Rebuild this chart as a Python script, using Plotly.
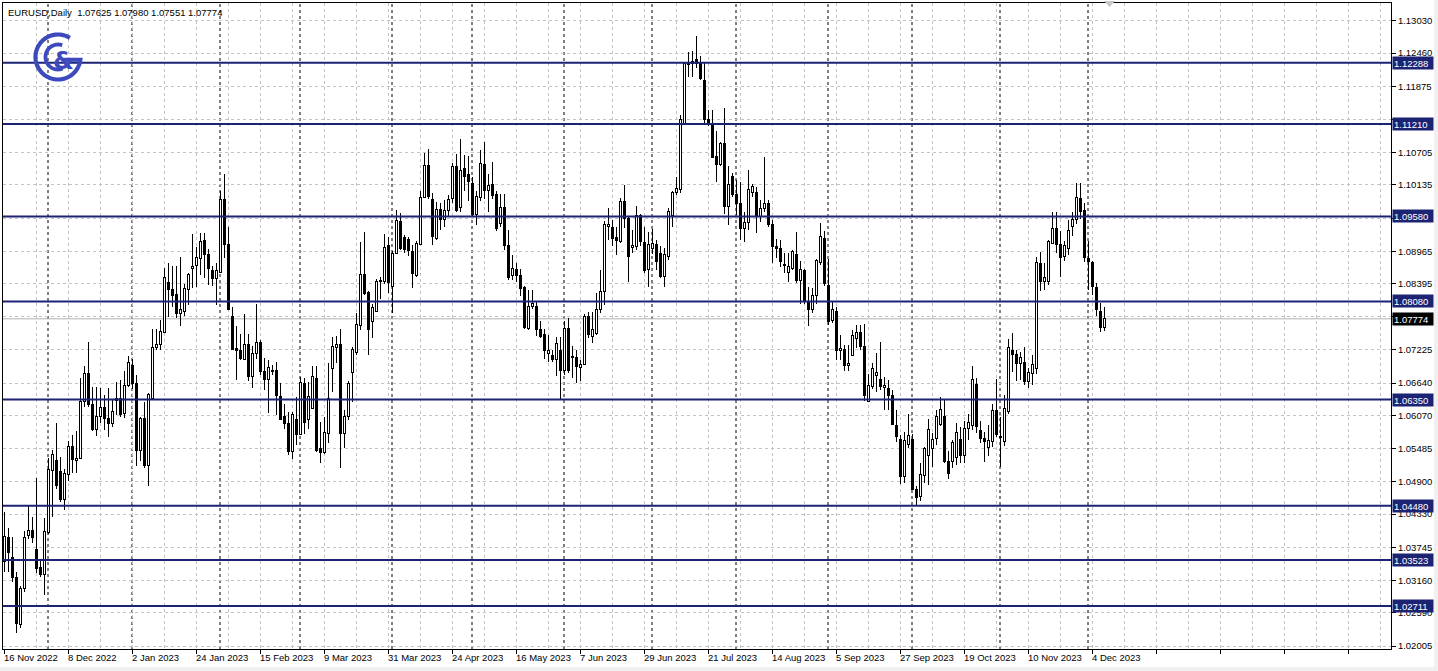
import math
import pandas as pd
import plotly.graph_objects as go

# ---------------- data ----------------
symbol_header = "EURUSD,Daily"
header_ohlc = ["1.07625", "1.07980", "1.07551", "1.07774"]

opens = [
    1.0349, 1.0392, 1.0357, 1.0322, 1.0238, 1.0302, 1.0395, 1.0405, 1.0370, 1.0339,
    1.0327, 1.0401, 1.0510, 1.0527, 1.0508, 1.0459, 1.0503, 1.0553, 1.0527, 1.0532,
    1.0631, 1.0681, 1.0626, 1.0583, 1.0606, 1.0621, 1.0602, 1.0593, 1.0634, 1.0637,
    1.0611, 1.0660, 1.0695, 1.0664, 1.0545, 1.0602, 1.0519, 1.0637, 1.0727, 1.0732,
    1.0753, 1.0841, 1.0829, 1.0821, 1.0786, 1.0790, 1.0829, 1.0866, 1.0871, 1.0884,
    1.0916, 1.0890, 1.0862, 1.0849, 1.0859, 1.0988, 1.0909, 1.0781, 1.0725, 1.0722,
    1.0706, 1.0733, 1.0675, 1.0717, 1.0735, 1.0685, 1.0670, 1.0684, 1.0686, 1.0641,
    1.0605, 1.0593, 1.0543, 1.0600, 1.0573, 1.0664, 1.0600, 1.0620, 1.0673, 1.0549,
    1.0542, 1.0576, 1.0690, 1.0727, 1.0732, 1.0576, 1.0606, 1.0683, 1.0718, 1.0765,
    1.0856, 1.0824, 1.0773, 1.0791, 1.0843, 1.0843, 1.0906, 1.0835, 1.0893, 1.0949,
    1.0921, 1.0917, 1.0896, 1.0853, 1.0908, 1.0992, 1.1047, 1.0987, 1.0919, 1.0970,
    1.0953, 1.0969, 1.0990, 1.1046, 1.0974, 1.1043, 1.1031, 1.1016, 1.0962, 1.0992,
    1.1050, 1.1004, 1.1015, 1.0996, 1.0946, 1.0973, 1.0907, 1.0854, 1.0865, 1.0853,
    1.0832, 1.0761, 1.0799, 1.0800, 1.0759, 1.0749, 1.0717, 1.0713, 1.0705, 1.0722,
    1.0687, 1.0761, 1.0709, 1.0710, 1.0692, 1.0697, 1.0781, 1.0747, 1.0752, 1.0793,
    1.0825, 1.0940, 1.0939, 1.0921, 1.0914, 1.0984, 1.0955, 1.0903, 1.0905, 1.0960,
    1.0912, 1.0864, 1.0902, 1.0909, 1.0893, 1.0852, 1.0887, 1.0960, 1.1000, 1.1006,
    1.1122, 1.1225, 1.1228, 1.1234, 1.1228, 1.1197, 1.1129, 1.1121, 1.1063, 1.1049,
    1.1086, 1.0975, 1.1028, 1.0996, 1.0981, 1.0937, 1.0947, 1.1001, 1.1001, 1.0957,
    1.0972, 1.0981, 1.0943, 1.0905, 1.0902, 1.0874, 1.0859, 1.0866, 1.0890, 1.0845,
    1.0862, 1.0808, 1.0793, 1.0819, 1.0876, 1.0919, 1.0837, 1.0774, 1.0790, 1.0721,
    1.0724, 1.0695, 1.0712, 1.0742, 1.0754, 1.0728, 1.0632, 1.0658, 1.0678, 1.0671,
    1.0656, 1.0654, 1.0643, 1.0590, 1.0565, 1.0500, 1.0555, 1.0564, 1.0476, 1.0464,
    1.0502, 1.0537, 1.0548, 1.0567, 1.0591, 1.0605, 1.0526, 1.0526, 1.0533, 1.0565,
    1.0536, 1.0584, 1.0589, 1.0661, 1.0581, 1.0567, 1.0550, 1.0561, 1.0615, 1.0570,
    1.0561, 1.0614, 1.0721, 1.0714, 1.0698, 1.0701, 1.0667, 1.0681, 1.0690, 1.0875,
    1.0844, 1.0844, 1.0911, 1.0937, 1.0908, 1.0887, 1.0902, 1.0940, 1.0952, 1.0990,
    1.0969, 1.0883, 1.0877, 1.0833, 1.0790, 1.07625,
]

highs = [
    1.0436, 1.0408, 1.0392, 1.0331, 1.0306, 1.0403, 1.0449, 1.0428, 1.0496, 1.0351,
    1.0427, 1.0532, 1.0546, 1.0593, 1.0533, 1.0512, 1.0562, 1.0573, 1.0580, 1.0673,
    1.0694, 1.0737, 1.0658, 1.0658, 1.0655, 1.0643, 1.0656, 1.0634, 1.0666, 1.0669,
    1.0686, 1.0712, 1.0706, 1.0679, 1.0605, 1.0631, 1.0646, 1.0760, 1.0760, 1.0776,
    1.0867, 1.0875, 1.0871, 1.0871, 1.0887, 1.0839, 1.0859, 1.0927, 1.0904, 1.0929,
    1.0928, 1.0900, 1.0870, 1.0875, 1.1002, 1.1033, 1.0940, 1.0799, 1.0765, 1.0751,
    1.0786, 1.0751, 1.0730, 1.0803, 1.0740, 1.0708, 1.0705, 1.0696, 1.0702, 1.0664,
    1.0627, 1.0614, 1.0614, 1.0640, 1.0675, 1.0673, 1.0666, 1.0694, 1.0694, 1.0596,
    1.0605, 1.0699, 1.0746, 1.0748, 1.0759, 1.0617, 1.0667, 1.0728, 1.0788, 1.0913,
    1.0931, 1.0826, 1.0803, 1.0847, 1.0852, 1.0927, 1.0922, 1.0897, 1.0970, 1.0964,
    1.0925, 1.0922, 1.0908, 1.0914, 1.1002, 1.1069, 1.1076, 1.0999, 1.0984, 1.0982,
    1.0987, 1.0996, 1.1052, 1.1068, 1.1094, 1.1066, 1.1064, 1.1028, 1.1002, 1.1075,
    1.1090, 1.1033, 1.1054, 1.1003, 1.0998, 1.0998, 1.0934, 1.0890, 1.0875, 1.0865,
    1.0835, 1.0829, 1.0828, 1.0808, 1.0774, 1.0759, 1.0749, 1.0722, 1.0746, 1.0745,
    1.0773, 1.0779, 1.0729, 1.0723, 1.0705, 1.0786, 1.0790, 1.0790, 1.0823, 1.0864,
    1.0949, 1.0972, 1.0952, 1.0940, 1.0990, 1.1013, 1.0958, 1.0934, 1.0976, 1.0963,
    1.0940, 1.0931, 1.0935, 1.0917, 1.0905, 1.0902, 1.0972, 1.1002, 1.1028, 1.1137,
    1.1231, 1.1247, 1.1250, 1.1276, 1.1240, 1.1229, 1.1146, 1.1146, 1.1108, 1.1090,
    1.1149, 1.1046, 1.1034, 1.1022, 1.1019, 1.0966, 1.1040, 1.1015, 1.1009, 1.0987,
    1.1063, 1.0987, 1.0952, 1.0918, 1.0917, 1.0893, 1.0893, 1.0898, 1.0931, 1.0880,
    1.0865, 1.0834, 1.0832, 1.0882, 1.0946, 1.0932, 1.0882, 1.0808, 1.0799, 1.0749,
    1.0731, 1.0731, 1.0758, 1.0767, 1.0767, 1.0768, 1.0681, 1.0699, 1.0718, 1.0737,
    1.0675, 1.0669, 1.0652, 1.0617, 1.0572, 1.0578, 1.0609, 1.0575, 1.0483, 1.0523,
    1.0552, 1.0601, 1.0576, 1.0616, 1.0640, 1.0636, 1.0545, 1.0563, 1.0594, 1.0587,
    1.0598, 1.0609, 1.0695, 1.0673, 1.0597, 1.0578, 1.0591, 1.0627, 1.0672, 1.0605,
    1.0643, 1.0742, 1.0752, 1.0722, 1.0719, 1.0727, 1.0691, 1.0713, 1.0887, 1.0895,
    1.0875, 1.0917, 1.0965, 1.0965, 1.0933, 1.0915, 1.0951, 1.0965, 1.1017, 1.1017,
    1.0982, 1.0915, 1.0879, 1.0840, 1.0805, 1.07980,
]

lows = [
    1.0331, 1.0331, 1.0313, 1.0223, 1.0233, 1.0295, 1.0390, 1.0383, 1.0329, 1.0322,
    1.0291, 1.0398, 1.0428, 1.0478, 1.0455, 1.0440, 1.0492, 1.0506, 1.0505, 1.0531,
    1.0622, 1.0622, 1.0579, 1.0571, 1.0593, 1.0581, 1.0569, 1.0587, 1.0608, 1.0605,
    1.0603, 1.0658, 1.0653, 1.0518, 1.0526, 1.0514, 1.0483, 1.0634, 1.0722, 1.0722,
    1.0752, 1.0781, 1.0799, 1.0778, 1.0764, 1.0782, 1.0802, 1.0831, 1.0834, 1.0855,
    1.0849, 1.0837, 1.0835, 1.0802, 1.0858, 1.0884, 1.0793, 1.0723, 1.0669, 1.0705,
    1.0705, 1.0667, 1.0655, 1.0706, 1.0678, 1.0652, 1.0612, 1.0678, 1.0608, 1.0599,
    1.0584, 1.0537, 1.0531, 1.0555, 1.0573, 1.0575, 1.0584, 1.0618, 1.0543, 1.0524,
    1.0539, 1.0558, 1.0649, 1.0700, 1.0514, 1.0549, 1.0599, 1.0631, 1.0714, 1.0758,
    1.0820, 1.0713, 1.0744, 1.0790, 1.0812, 1.0839, 1.0823, 1.0788, 1.0892, 1.0899,
    1.0893, 1.0889, 1.0832, 1.0851, 1.0908, 1.0990, 1.0988, 1.0908, 1.0917, 1.0934,
    1.0940, 1.0958, 1.0982, 1.0966, 1.0966, 1.1002, 1.0985, 1.0957, 1.0942, 1.0985,
    1.0988, 1.0966, 1.0988, 1.0933, 1.0940, 1.0899, 1.0846, 1.0846, 1.0843, 1.0818,
    1.0760, 1.0758, 1.0795, 1.0748, 1.0744, 1.0707, 1.0702, 1.0701, 1.0676, 1.0635,
    1.0678, 1.0682, 1.0673, 1.0665, 1.0667, 1.0696, 1.0743, 1.0735, 1.0749, 1.0787,
    1.0802, 1.0917, 1.0905, 1.0890, 1.0911, 1.0937, 1.0843, 1.0893, 1.0899, 1.0905,
    1.0858, 1.0834, 1.0891, 1.0864, 1.0849, 1.0834, 1.0881, 1.0940, 1.0996, 1.0999,
    1.1119, 1.1204, 1.1204, 1.1219, 1.1199, 1.1119, 1.1117, 1.1061, 1.1019, 1.1046,
    1.0963, 1.0943, 1.0993, 1.0960, 1.0917, 1.0912, 1.0934, 1.0993, 1.0928, 1.0948,
    1.0966, 1.0940, 1.0876, 1.0884, 1.0869, 1.0858, 1.0843, 1.0863, 1.0840, 1.0803,
    1.0804, 1.0765, 1.0787, 1.0804, 1.0873, 1.0835, 1.0767, 1.0770, 1.0705, 1.0704,
    1.0686, 1.0685, 1.0711, 1.0726, 1.0722, 1.0632, 1.0631, 1.0653, 1.0649, 1.0652,
    1.0617, 1.0617, 1.0590, 1.0561, 1.0487, 1.0488, 1.0550, 1.0476, 1.0448, 1.0457,
    1.0488, 1.0485, 1.0516, 1.0555, 1.0589, 1.0523, 1.0495, 1.0515, 1.0519, 1.0523,
    1.0523, 1.0563, 1.0582, 1.0576, 1.0559, 1.0525, 1.0535, 1.0551, 1.0569, 1.0517,
    1.0553, 1.0610, 1.0684, 1.0667, 1.0669, 1.0660, 1.0656, 1.0661, 1.0680, 1.0827,
    1.0828, 1.0837, 1.0910, 1.0893, 1.0852, 1.0880, 1.0890, 1.0924, 1.0945, 1.0954,
    1.0877, 1.0828, 1.0819, 1.0783, 1.0755, 1.07551,
]

closes = [
    1.0393, 1.0365, 1.0322, 1.0241, 1.0302, 1.0392, 1.0405, 1.0392, 1.0337, 1.0327,
    1.0403, 1.0511, 1.0539, 1.0483, 1.0459, 1.0505, 1.0553, 1.0530, 1.0532, 1.0631,
    1.0681, 1.0626, 1.0583, 1.0606, 1.0621, 1.0602, 1.0593, 1.0614, 1.0637, 1.0608,
    1.0660, 1.0701, 1.0664, 1.0545, 1.0602, 1.0519, 1.0644, 1.0727, 1.0732, 1.0755,
    1.0851, 1.0829, 1.0819, 1.0786, 1.0793, 1.0831, 1.0855, 1.0869, 1.0886, 1.0913,
    1.0890, 1.0866, 1.0849, 1.0862, 1.0988, 1.0909, 1.0793, 1.0724, 1.0721, 1.0708,
    1.0733, 1.0675, 1.0717, 1.0735, 1.0684, 1.0670, 1.0692, 1.0687, 1.0643, 1.0600,
    1.0593, 1.0543, 1.0608, 1.0573, 1.0665, 1.0594, 1.0640, 1.0676, 1.0546, 1.0542,
    1.0577, 1.0637, 1.0729, 1.0733, 1.0576, 1.0606, 1.0664, 1.0723, 1.0768, 1.0856,
    1.0822, 1.0759, 1.0797, 1.0844, 1.0845, 1.0903, 1.0841, 1.0892, 1.0950, 1.0902,
    1.0900, 1.0898, 1.0858, 1.0910, 1.0992, 1.1047, 1.0993, 1.0922, 1.0970, 1.0953,
    1.0969, 1.0988, 1.1046, 1.0969, 1.1039, 1.1028, 1.1019, 1.0962, 1.0993, 1.1051,
    1.1003, 1.1012, 1.0994, 1.0936, 1.0974, 1.0907, 1.0850, 1.0867, 1.0853, 1.0830,
    1.0762, 1.0799, 1.0805, 1.0759, 1.0747, 1.0722, 1.0722, 1.0705, 1.0734, 1.0687,
    1.0761, 1.0687, 1.0711, 1.0693, 1.0697, 1.0782, 1.0749, 1.0758, 1.0793, 1.0825,
    1.0944, 1.0943, 1.0919, 1.0915, 1.0984, 1.0955, 1.0888, 1.0906, 1.0959, 1.0913,
    1.0862, 1.0909, 1.0911, 1.0878, 1.0852, 1.0890, 1.0966, 1.1000, 1.1008, 1.1129,
    1.1227, 1.1228, 1.1231, 1.1228, 1.1201, 1.1128, 1.1121, 1.1062, 1.1049, 1.1086,
    1.0975, 1.1015, 1.0996, 1.0981, 1.0937, 1.0947, 1.1005, 1.1011, 1.0957, 1.0972,
    1.0981, 1.0943, 1.0905, 1.0902, 1.0878, 1.0871, 1.0869, 1.0896, 1.0845, 1.0865,
    1.0808, 1.0793, 1.0819, 1.0880, 1.0923, 1.0840, 1.0772, 1.0793, 1.0721, 1.0725,
    1.0695, 1.0699, 1.0748, 1.0754, 1.0728, 1.0643, 1.0660, 1.0690, 1.0682, 1.0658,
    1.0660, 1.0643, 1.0591, 1.0570, 1.0499, 1.0563, 1.0572, 1.0476, 1.0462, 1.0503,
    1.0549, 1.0583, 1.0565, 1.0605, 1.0618, 1.0526, 1.0505, 1.0559, 1.0577, 1.0536,
    1.0584, 1.0594, 1.0670, 1.0587, 1.0566, 1.0562, 1.0563, 1.0615, 1.0573, 1.0569,
    1.0620, 1.0727, 1.0714, 1.0699, 1.0709, 1.0667, 1.0683, 1.0697, 1.0877, 1.0843,
    1.0851, 1.0913, 1.0937, 1.0908, 1.0885, 1.0906, 1.0934, 1.0953, 1.0991, 1.0966,
    1.0885, 1.0879, 1.0834, 1.0793, 1.0762, 1.07774,
]

date_labels = [
    "16 Nov 2022", "8 Dec 2022", "2 Jan 2023", "24 Jan 2023", "15 Feb 2023",
    "9 Mar 2023", "31 Mar 2023", "24 Apr 2023", "16 May 2023", "7 Jun 2023",
    "29 Jun 2023", "21 Jul 2023", "14 Aug 2023", "5 Sep 2023", "27 Sep 2023",
    "19 Oct 2023", "10 Nov 2023", "4 Dec 2023",
]
bars_per_label = 16

price_ticks = [
    1.13030, 1.12460, 1.11875, 1.11290, 1.10705, 1.10135, 1.09550, 1.08965,
    1.08395, 1.07810, 1.07225, 1.06640, 1.06070, 1.05485, 1.04900, 1.04330,
    1.03745, 1.03160, 1.02590, 1.02005,
]
hidden_ticks = [1.11290, 1.09550, 1.07810]   # covered by level boxes in the reference
levels = [1.12288, 1.11210, 1.09580, 1.08080, 1.06350, 1.04480, 1.03523, 1.02711]
last_price = 1.07774

# ---------------- calendar (broker trading days) ----------------
n = len(opens)
days = pd.bdate_range("2022-11-16", "2023-12-31")
days = days[days != pd.Timestamp("2022-12-26")][:n]
xs = list(range(n))
month_starts = [i for i in range(1, n) if days[i].month != days[i - 1].month]

# ---------------- geometry ----------------
W, H = 1438, 671
PL, PR, PT, PB = 3, 1391, 3, 649
BAR_PX = 4
x_range = [-0.25, -0.25 + (PR - PL) / BAR_PX]
y_range = [1.01953, 1.13342]


def fx(px):
    return (px - PL) / (PR - PL)


def fy(py):
    return (PB - py) / (PB - PT)


FONT = "Liberation Sans, Arial, sans-serif"
FS = 9.5
NAVY = "#1c2373"
GRID = "#c3c3c3"
LOGO = "#3d4abd"

fig = go.Figure()

# wicks (upper and lower parts, so white bodies stay white)
wx, wy = [], []
for i in xs:
    top = max(opens[i], closes[i])
    bot = min(opens[i], closes[i])
    wx += [i, i, None, i, i, None]
    wy += [highs[i], top, None, bot, lows[i], None]
fig.add_trace(go.Scatter(x=wx, y=wy, mode="lines", line=dict(color="black", width=1),
                         hoverinfo="skip", showlegend=False, connectgaps=False))

# bodies
fig.add_trace(go.Bar(
    x=xs,
    base=[min(o, c) for o, c in zip(opens, closes)],
    y=[abs(c - o) for o, c in zip(opens, closes)],
    width=0.5,
    marker=dict(color=["white" if c >= o else "black" for o, c in zip(opens, closes)],
                line=dict(color="black", width=1)),
    hoverinfo="skip", showlegend=False,
))

shapes = []
for i in month_starts:
    shapes.append(dict(type="line", xref="x", yref="paper", x0=i, x1=i, y0=0, y1=1,
                       line=dict(color="black", width=1, dash="3px,3px"), layer="between"))
shapes.append(dict(type="line", xref="paper", yref="y", x0=0, x1=1, y0=last_price, y1=last_price,
                   line=dict(color="#b0b0b0", width=1), layer="between"))
for lv in levels:
    shapes.append(dict(type="line", xref="paper", yref="y", x0=0, x1=1, y0=lv, y1=lv,
                       line=dict(color=NAVY, width=2), layer="above"))

# logo (pixel-sized paths around an anchor)
cx, cy = 58, 57


def arc(r, a0, a1, step=3):
    pts = []
    a = a0
    while a <= a1:
        t = math.radians(a)
        pts.append((r * math.cos(t), r * math.sin(t)))
        a += step
    t = math.radians(a1)
    pts.append((r * math.cos(t), r * math.sin(t)))
    return pts


outer = arc(22.5, 58, 353)
outer.append((5, outer[-1][1]))
inner = arc(12.5, 70, 292)
for pts, wdt in ((outer, 4.2), (inner, 3.8)):
    path = "M " + " L ".join(f"{p[0]:.2f},{p[1]:.2f}" for p in pts)
    shapes.append(dict(type="path", xref="paper", yref="paper", xsizemode="pixel", ysizemode="pixel",
                       xanchor=fx(cx), yanchor=fy(cy), path=path,
                       line=dict(color=LOGO, width=wdt), layer="above"))

shapes.append(dict(type="path", xref="paper", yref="paper",
                   path=f"M {fx(1104)},{fy(1)} L {fx(1115)},{fy(1)} L {fx(1109.5)},{fy(7)} Z",
                   fillcolor="#c8c8c8", line=dict(width=0), layer="above"))
shapes.append(dict(type="rect", xref="paper", yref="paper", x0=fx(1434), x1=fx(1438), y0=fy(671), y1=fy(0),
                   fillcolor="#f0f0f0", line=dict(width=0), layer="above"))
shapes.append(dict(type="rect", xref="paper", yref="paper", x0=fx(0), x1=fx(1438), y0=fy(671), y1=fy(667),
                   fillcolor="#f0f0f0", line=dict(width=0), layer="above"))

annotations = []
annotations.append(dict(xref="paper", yref="paper", x=fx(6), y=fy(13), xanchor="left", yanchor="middle",
                        text=symbol_header + "&nbsp; " + " ".join(header_ohlc), showarrow=False,
                        font=dict(family=FONT, size=FS, color="black")))
for k, lab in enumerate(date_labels):
    annotations.append(dict(xref="x", yref="paper", x=k * bars_per_label, y=0, xanchor="left", yanchor="top",
                            xshift=-2, yshift=-1, text=lab, showarrow=False,
                            font=dict(family=FONT, size=FS, color="black")))
for lv in levels:
    annotations.append(dict(xref="paper", yref="y", x=1, y=lv, xanchor="left", yanchor="middle", xshift=1,
                            text=f"{lv:.5f}", showarrow=False, bgcolor=NAVY, borderpad=1, width=38,
                            height=10, align="left", font=dict(family=FONT, size=FS, color="white")))
annotations.append(dict(xref="paper", yref="y", x=1, y=last_price, xanchor="left", yanchor="middle", xshift=1,
                        text=f"{last_price:.5f}", showarrow=False, bgcolor="black", borderpad=1, width=38,
                        height=10, align="left", font=dict(family=FONT, size=FS, color="white")))
annotations.append(dict(xref="paper", yref="paper", x=fx(cx + 5), y=fy(cy + 4), xanchor="center",
                        yanchor="middle", text="<b>&amp;</b>", showarrow=False,
                        font=dict(family="DejaVu Sans, sans-serif", size=24, color=LOGO)))

fig.update_layout(
    width=W, height=H,
    margin=dict(l=PL, r=W - PR, t=PT, b=H - PB, pad=0, autoexpand=False),
    paper_bgcolor="white", plot_bgcolor="white",
    showlegend=False, hovermode=False, dragmode=False, barmode="overlay", bargap=0,
    shapes=shapes, annotations=annotations,
    xaxis=dict(range=x_range, tickmode="linear", tick0=0,
               dtick=bars_per_label, ticks="outside", ticklen=4, tickcolor="black", showticklabels=False,
               showgrid=True, gridcolor=GRID, griddash="3px,3px", gridwidth=1,
               minor=dict(tickmode="linear", tick0=0, dtick=bars_per_label // 2, showgrid=True,
                          gridcolor=GRID, griddash="3px,3px", ticks=""),
               showline=True, linecolor="black", linewidth=1, mirror=True, zeroline=False, fixedrange=True),
    yaxis=dict(range=y_range, side="right", tickmode="array", tickvals=price_ticks,
               ticktext=["" if v in hidden_ticks else f"{v:.5f}" for v in price_ticks],
               ticks="outside", ticklen=4, tickcolor="black", automargin=False,
               tickfont=dict(family=FONT, size=FS, color="black"),
               showgrid=True, gridcolor=GRID, griddash="3px,3px", gridwidth=1,
               showline=True, linecolor="black", linewidth=1, mirror=True, zeroline=False, fixedrange=True),
)

post_js = (
    "document.documentElement.style.margin='0';document.body.style.margin='0';"
    "document.body.style.overflow='hidden';"
    "var s=document.createElement('style');"
    "s.innerHTML='.cartesianlayer .trace path{shape-rendering:crispEdges}';"
    "document.head.appendChild(s);"
)
fig.write_html("out.html", post_script=post_js, config={"displayModeBar": False, "staticPlot": True})
